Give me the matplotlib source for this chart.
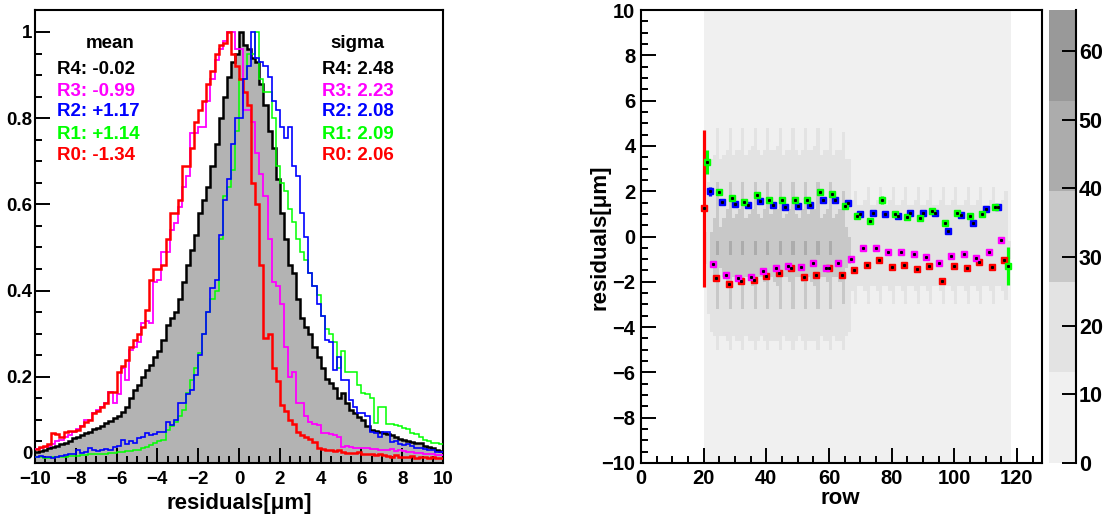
import numpy as np
import matplotlib
matplotlib.use("Agg")
import matplotlib.pyplot as plt
from matplotlib.colors import ListedColormap, BoundaryNorm
from matplotlib.ticker import MultipleLocator
from matplotlib.cm import ScalarMappable

plt.rcParams['font.family'] = ['Liberation Sans', 'DejaVu Sans']
plt.rcParams['font.weight'] = 'bold'

# ---------------- residual distributions (peak normalised), 100 bins on [-10, 10] ----------------
resid_edges = np.linspace(-10, 10, 101)

r4_black = [
    0.026, 0.028, 0.031, 0.034, 0.036, 0.040, 0.044, 0.047, 0.051, 0.057,
    0.060, 0.066, 0.070, 0.072, 0.078, 0.082, 0.085, 0.092, 0.098, 0.104,
    0.108, 0.118, 0.130, 0.150, 0.170, 0.180, 0.200, 0.216, 0.228, 0.245,
    0.260, 0.285, 0.320, 0.336, 0.350, 0.380, 0.420, 0.460, 0.495, 0.530,
    0.580, 0.610, 0.640, 0.690, 0.740, 0.800, 0.850, 0.895, 0.930, 0.950,
    1.000, 0.970, 0.960, 0.940, 0.930, 0.880, 0.830, 0.770, 0.730, 0.660,
    0.580, 0.520, 0.460, 0.440, 0.380, 0.336, 0.316, 0.300, 0.270, 0.246,
    0.220, 0.195, 0.185, 0.174, 0.150, 0.162, 0.140, 0.123, 0.115, 0.107,
    0.100, 0.085, 0.077, 0.074, 0.072, 0.070, 0.068, 0.064, 0.060, 0.056,
    0.053, 0.050, 0.048, 0.047, 0.046, 0.040, 0.038, 0.034, 0.030, 0.028,
]
r3_magenta = [
    0.033, 0.034, 0.037, 0.040, 0.045, 0.050, 0.053, 0.060, 0.065, 0.072,
    0.078, 0.085, 0.100, 0.100, 0.115, 0.123, 0.130, 0.140, 0.165, 0.140,
    0.160, 0.220, 0.193, 0.262, 0.270, 0.280, 0.325, 0.330, 0.325, 0.420,
    0.425, 0.490, 0.490, 0.540, 0.556, 0.594, 0.640, 0.665, 0.765, 0.765,
    0.780, 0.780, 0.840, 0.890, 0.935, 0.960, 0.980, 1.000, 1.000, 0.960,
    0.960, 0.820, 0.820, 0.790, 0.720, 0.670, 0.620, 0.520, 0.420, 0.410,
    0.370, 0.270, 0.200, 0.210, 0.140, 0.140, 0.110, 0.096, 0.090, 0.088,
    0.070, 0.070, 0.068, 0.065, 0.060, 0.037, 0.040, 0.038, 0.035, 0.034,
    0.035, 0.034, 0.032, 0.033, 0.031, 0.030, 0.030, 0.032, 0.028, 0.030,
    0.027, 0.026, 0.025, 0.023, 0.024, 0.022, 0.021, 0.020, 0.019, 0.018,
]
r2_blue = [
    0.015, 0.016, 0.014, 0.013, 0.012, 0.015, 0.016, 0.019, 0.020, 0.022,
    0.030, 0.023, 0.025, 0.035, 0.030, 0.028, 0.030, 0.032, 0.030, 0.037,
    0.040, 0.053, 0.045, 0.050, 0.046, 0.058, 0.060, 0.070, 0.065, 0.068,
    0.072, 0.072, 0.095, 0.088, 0.100, 0.140, 0.140, 0.160, 0.170, 0.204,
    0.250, 0.300, 0.350, 0.405, 0.425, 0.530, 0.610, 0.660, 0.740, 0.800,
    0.800, 0.890, 0.920, 1.000, 0.940, 0.930, 0.920, 0.895, 0.840, 0.820,
    0.780, 0.755, 0.780, 0.690, 0.665, 0.580, 0.525, 0.440, 0.410, 0.370,
    0.340, 0.285, 0.280, 0.216, 0.246, 0.193, 0.193, 0.146, 0.130, 0.116,
    0.116, 0.110, 0.072, 0.070, 0.060, 0.072, 0.072, 0.049, 0.050, 0.045,
    0.042, 0.045, 0.040, 0.035, 0.035, 0.032, 0.030, 0.030, 0.026, 0.025,
]
r1_green = [
    0.014, 0.013, 0.012, 0.012, 0.013, 0.014, 0.015, 0.015, 0.016, 0.016,
    0.017, 0.018, 0.019, 0.020, 0.020, 0.021, 0.022, 0.022, 0.023, 0.024,
    0.025, 0.026, 0.027, 0.027, 0.030, 0.030, 0.035, 0.038, 0.042, 0.046,
    0.050, 0.053, 0.077, 0.085, 0.095, 0.110, 0.123, 0.162, 0.193, 0.220,
    0.255, 0.300, 0.350, 0.380, 0.400, 0.520, 0.620, 0.640, 0.680, 0.770,
    0.890, 0.890, 0.950, 0.950, 1.000, 0.890, 0.860, 0.860, 0.800, 0.690,
    0.650, 0.630, 0.590, 0.560, 0.520, 0.490, 0.470, 0.440, 0.410, 0.390,
    0.340, 0.310, 0.300, 0.280, 0.220, 0.260, 0.210, 0.210, 0.210, 0.180,
    0.162, 0.160, 0.150, 0.093, 0.130, 0.130, 0.090, 0.090, 0.088, 0.085,
    0.081, 0.078, 0.070, 0.068, 0.060, 0.053, 0.050, 0.046, 0.046, 0.044,
]
r0_red = [
    0.032, 0.036, 0.040, 0.045, 0.070, 0.068, 0.060, 0.072, 0.074, 0.075,
    0.077, 0.085, 0.095, 0.100, 0.116, 0.120, 0.130, 0.140, 0.165, 0.165,
    0.210, 0.225, 0.240, 0.270, 0.285, 0.300, 0.316, 0.355, 0.425, 0.450,
    0.450, 0.460, 0.520, 0.580, 0.580, 0.610, 0.690, 0.690, 0.730, 0.790,
    0.820, 0.840, 0.880, 0.910, 0.950, 0.970, 0.975, 1.000, 0.950, 0.920,
    0.890, 0.860, 0.830, 0.650, 0.600, 0.460, 0.290, 0.300, 0.220, 0.190,
    0.135, 0.120, 0.100, 0.090, 0.072, 0.065, 0.060, 0.055, 0.049, 0.035,
    0.033, 0.030, 0.030, 0.028, 0.030, 0.025, 0.024, 0.023, 0.023, 0.025,
    0.020, 0.022, 0.020, 0.018, 0.022, 0.018, 0.016, 0.015, 0.018, 0.014,
    0.015, 0.013, 0.016, 0.012, 0.014, 0.013, 0.012, 0.014, 0.012, 0.011,
]

mean_labels = ["R4: -0.02", "R3: -0.99", "R2: +1.17", "R1: +1.14", "R0: -1.34"]
sigma_labels = ["R4: 2.48", "R3: 2.23", "R2: 2.08", "R1: 2.09", "R0: 2.06"]
label_colors = ["#000000", "#ff00ff", "#0000ff", "#00ff00", "#ff0000"]

# ---------------- residuals vs row: 2D occupancy ----------------
row_edges = np.arange(20, 119)          # 98 columns, rows 20..117
col_weight = [
    0.28, 0.42, 0.56, 0.60, 0.80, 0.58, 0.60, 0.63, 0.80, 0.60,
    0.62, 0.64, 0.80, 0.60, 0.62, 0.65, 0.80, 0.62, 0.60, 0.64,
    0.80, 0.62, 0.64, 0.65, 0.80, 0.60, 0.62, 0.64, 0.80, 0.62,
    0.60, 0.64, 0.80, 0.62, 0.64, 0.65, 0.80, 0.60, 0.62, 0.64,
    0.80, 0.60, 0.62, 0.64, 0.76, 0.58, 0.55, 0.34, 0.38, 0.33,
    0.33, 0.34, 0.39, 0.33, 0.33, 0.34, 0.39, 0.33, 0.33, 0.34,
    0.39, 0.33, 0.33, 0.34, 0.39, 0.33, 0.33, 0.34, 0.39, 0.33,
    0.33, 0.34, 0.39, 0.33, 0.33, 0.34, 0.39, 0.33, 0.33, 0.34,
    0.39, 0.33, 0.33, 0.34, 0.39, 0.33, 0.33, 0.34, 0.39, 0.33,
    0.33, 0.34, 0.39, 0.33, 0.33, 0.34, 0.37, 0.27,
]
y_edges = np.linspace(-10, 10, 101)
y_profile = [
    1.0, 1.0, 1.2, 1.2, 1.4, 1.5, 1.6, 1.8, 2.0, 2.2,
    2.5, 2.8, 3.2, 3.6, 4.0, 4.6, 5.2, 6.0, 7.0, 8.0,
    9.0, 10.5, 12.0, 13.5, 15.5, 17.5, 19.5, 21.5, 23.5, 25.5,
    27.5, 29.0, 30.5, 32.0, 33.5, 35.0, 36.5, 38.0, 39.5, 41.0,
    42.5, 44.0, 45.5, 47.0, 48.0, 49.0, 50.0, 50.0, 49.5, 48.5,
    47.5, 46.5, 45.5, 44.5, 43.5, 42.0, 40.5, 39.0, 37.5, 36.0,
    34.5, 33.0, 31.0, 29.0, 27.0, 25.5, 24.0, 22.5, 21.5, 20.5,
    19.5, 18.5, 17.5, 16.5, 15.5, 14.5, 14.0, 13.0, 12.0, 11.0,
    10.0, 9.0, 8.0, 7.0, 6.0, 5.2, 4.5, 4.0, 3.4, 3.0,
    2.6, 2.2, 2.0, 1.8, 1.6, 1.4, 1.2, 1.2, 1.0, 1.0,
]

# mean residual per row, four row classes
rows_r0 = list(range(20, 117, 4))
vals_r0 = [1.24, -1.84, -2.08, -1.97, -1.93, -1.75, -1.62, -1.38, -1.79, -1.70,
           -1.38, -1.70, -1.48, -1.25, -1.05, -1.35, -1.28, -1.42, -1.29, -1.96,
           -1.30, -1.39, -1.13, -1.36, -1.04]
errs_r0 = [3.45] + [0.08] * 24

rows_r1 = list(range(21, 118, 4))
vals_r1 = [3.29, 1.97, 1.70, 1.54, 1.85, 1.61, 1.61, 1.62, 1.62, 1.98,
           1.86, 1.36, 0.90, 0.69, 1.61, 0.99, 0.86, 0.83, 1.11, 0.59,
           1.04, 0.90, 1.01, 1.30, -1.30]
errs_r1 = [0.52] + [0.08] * 13 + [0.17] + [0.08] * 9 + [0.82]

rows_r2 = list(range(22, 115, 4))
vals_r2 = [2.00, 1.51, 1.43, 1.41, 1.55, 1.39, 1.32, 1.35, 1.39, 1.62,
           1.61, 1.47, 0.99, 1.05, 1.01, 0.92, 1.04, 1.02, 1.02, 0.25,
           0.95, 0.59, 1.20, 1.30]
errs_r2 = [0.20] + [0.08] * 23

rows_r3 = list(range(23, 116, 4))
vals_r3 = [-1.20, -1.68, -1.85, -1.81, -1.51, -1.41, -1.32, -1.35, -1.17, -1.39,
           -1.19, -0.98, -0.49, -0.49, -0.68, -0.70, -0.77, -0.89, -1.19, -0.86,
           -0.77, -0.93, -0.68, -0.15]
errs_r3 = [0.08] * 24

level_bounds = [0, 13.2, 26.4, 39.6, 52.8, 66.0]
level_colors = ["#f0f0f0", "#e3e3e3", "#c8c8c8", "#acacac", "#999999"]
cbar_ticks = [0, 10, 20, 30, 40, 50, 60]

# ---------------- figure ----------------
W, H = 1109, 518
fig = plt.figure(figsize=(W / 100, H / 100), dpi=100)


def style_axes(ax, major_len=10.5, minor_len=5.0, size=12):
    for s in ax.spines.values():
        s.set_linewidth(1.5)
    ax.tick_params(which='both', direction='in', top=False, right=False, width=1.4,
                   labelsize=size)
    ax.tick_params(which='major', length=major_len)
    ax.tick_params(which='minor', length=minor_len)


# left panel: residual distributions
axL = fig.add_axes([35 / W, 55 / H, 408 / W, 453 / H])
axL.stairs(r4_black, resid_edges, fill=True, color="#b3b3b3", baseline=0, zorder=1)
axL.stairs(r4_black, resid_edges, color="black", lw=1.8, baseline=None, zorder=3)
axL.stairs(r3_magenta, resid_edges, color="#ff00ff", lw=1.3, baseline=None, zorder=4)
axL.stairs(r0_red, resid_edges, color="#ff0000", lw=1.8, baseline=None, zorder=5)
axL.stairs(r1_green, resid_edges, color="#00ff00", lw=1.1, baseline=None, zorder=4)
axL.stairs(r2_blue, resid_edges, color="#0000ff", lw=1.2, baseline=None, zorder=5)
axL.set_xlim(-10, 10)
axL.set_ylim(0, 1.051)
axL.set_xticks(range(-10, 11, 2))
axL.xaxis.set_minor_locator(MultipleLocator(0.5))
axL.set_yticks([0, 0.2, 0.4, 0.6, 0.8, 1.0])
axL.set_yticklabels(["0", "0.2", "0.4", "0.6", "0.8", "1"])
axL.yaxis.set_minor_locator(MultipleLocator(0.05))
style_axes(axL, size=13.5)
axL.tick_params(axis='y', pad=2)
axL.tick_params(axis='x', pad=6)
# lift the "0" label slightly so it clears the "-10" below it
axL.get_yticklabels()[0].set_va('bottom')

def frac_y(py):
    return 1 - (py - 10) / 453

axL.text(0.184, frac_y(44), "mean", transform=axL.transAxes, ha='center', va='center',
         fontsize=13.5, fontweight='bold')
axL.text(0.789, frac_y(44), "sigma", transform=axL.transAxes, ha='center', va='center',
         fontsize=13.5, fontweight='bold')
for i, (m, s, c) in enumerate(zip(mean_labels, sigma_labels, label_colors)):
    yy = frac_y([70, 91, 112, 134, 155][i])
    axL.text(0.054, yy, m, transform=axL.transAxes, ha='left', va='center',
             fontsize=13.5, fontweight='bold', color=c)
    axL.text(0.703, yy, s, transform=axL.transAxes, ha='left', va='center',
             fontsize=13.5, fontweight='bold', color=c)

fig.text(239 / W, 1 - 503 / H, "residuals[μm]", ha='center', va='center',
         fontsize=16, fontweight='bold')

# right panel: residuals vs row
axR = fig.add_axes([641 / W, 55 / H, 401 / W, 453 / H])
cmap = ListedColormap(level_colors)
norm = BoundaryNorm(level_bounds, cmap.N)
counts = np.outer(np.asarray(col_weight), np.asarray(y_profile))
axR.pcolormesh(row_edges, y_edges, counts.T, cmap=cmap, norm=norm, zorder=1)

series = [
    (rows_r0, vals_r0, errs_r0, "#ff0000"),
    (rows_r3, vals_r3, errs_r3, "#ff00ff"),
    (rows_r2, vals_r2, errs_r2, "#0000ff"),
    (rows_r1, vals_r1, errs_r1, "#00ff00"),
]
for rows, vals, errs, c in series:
    axR.errorbar(rows, vals, yerr=errs, fmt='s', color=c, mec=c, ms=3.8,
                 elinewidth=2.3, capsize=0, zorder=3)
    axR.plot(rows, vals, 's', color='black', ms=1.2, zorder=4)

axR.set_xlim(0, 128)
axR.set_ylim(-10, 10)
axR.set_xticks(range(0, 121, 20))
axR.xaxis.set_minor_locator(MultipleLocator(5))
axR.set_yticks(range(-10, 11, 2))
axR.yaxis.set_minor_locator(MultipleLocator(0.5))
style_axes(axR, size=14.5)
axR.tick_params(axis='y', pad=4)
axR.tick_params(axis='x', pad=4)

fig.text(600 / W, 1 - 237 / H, "residuals[μm]", ha='center', va='center',
         rotation=90, fontsize=16, fontweight='bold')
fig.text(840 / W, 1 - 498 / H, "row", ha='center', va='center',
         fontsize=16, fontweight='bold')

# colour scale
cax = fig.add_axes([1049 / W, 55 / H, 27 / W, 453 / H])
cb = fig.colorbar(ScalarMappable(norm=norm, cmap=cmap), cax=cax, spacing='proportional')
cb.set_ticks(cbar_ticks)
cb.outline.set_visible(False)
cax.tick_params(direction='in', length=10, width=1.4, labelsize=15.5, pad=2)
cax.minorticks_off()
cax.plot([1, 1], [0, 1], transform=cax.transAxes, color='black', lw=1.5, clip_on=False)

fig.savefig("out.png", dpi=100)
